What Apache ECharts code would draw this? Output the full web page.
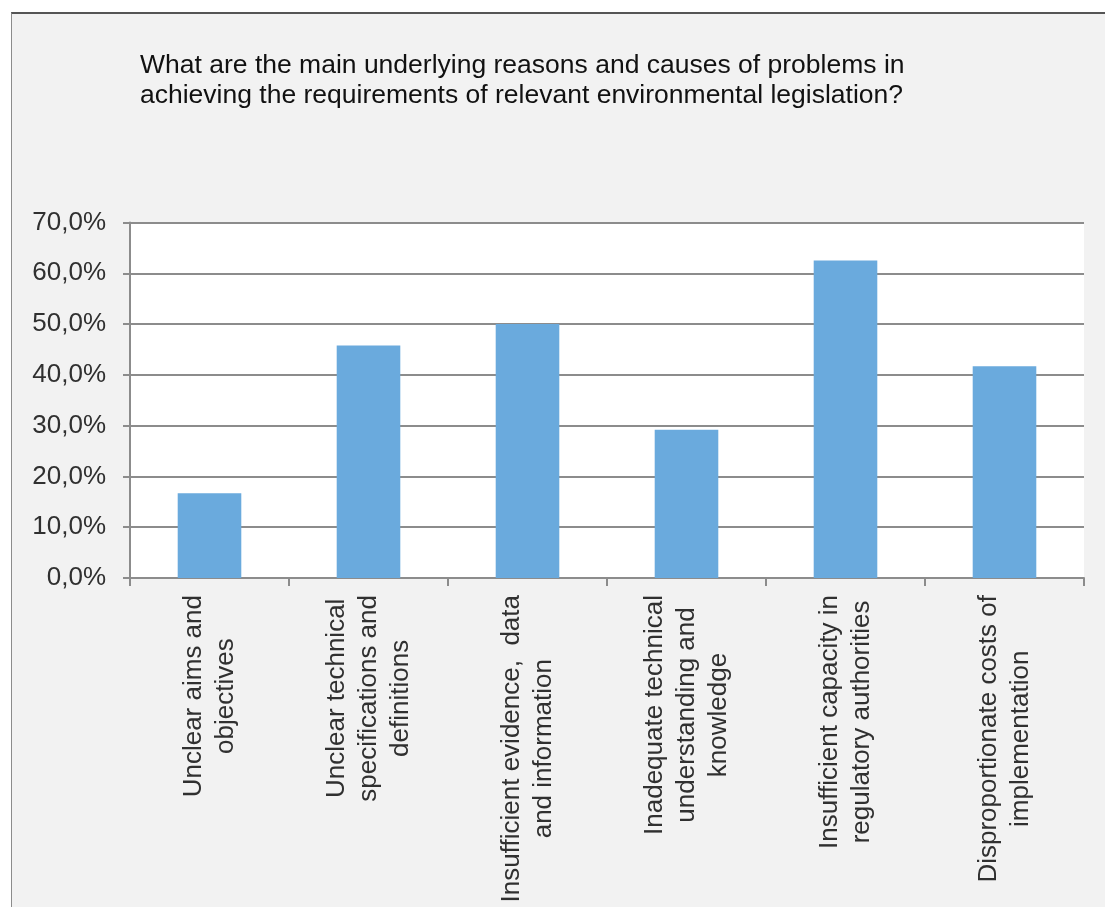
<!DOCTYPE html>
<html>
<head>
<meta charset="utf-8">
<script src="https://cdn.jsdelivr.net/npm/echarts@6/dist/echarts.min.js"></script>
<style>
  body { margin: 0; background: #fff; }
  #frame {
    position: absolute; left: 11px; top: 12px; right: 0; bottom: 0;
    background: #f2f2f2;
    border-top: 2px solid #555;
    border-left: 1px solid #8c8c8c;
  }
  #chart { position: absolute; left: 0; top: 0; width: 1105px; height: 907px; }
</style>
</head>
<body>
<div id="frame"></div>
<div id="chart"></div>
<script>
const titleText = "What are the main underlying reasons and causes of problems in\nachieving the requirements of relevant environmental legislation?";

const categories = [
  "Unclear aims and\nobjectives",
  "Unclear technical\nspecifications and\ndefinitions",
  "Insufficient evidence,  data\nand information",
  "Inadequate technical\nunderstanding and\nknowledge",
  "Insufficient capacity in\nregulatory authorities",
  "Disproportionate costs of\nimplementation",
];

const values = [16.7, 45.8, 50.0, 29.2, 62.5, 41.7];

const yTicks = { min: 0, max: 70, interval: 10 };

const font = "'Liberation Sans', Arial, sans-serif";
const lineColor = "#8c8c8c";
const textColor = "#303030";

const chart = echarts.init(document.getElementById("chart"), null, { renderer: "canvas" });

const option = {
  backgroundColor: "transparent",
  animation: false,
  title: {
    text: titleText,
    left: 140,
    top: 51,
    padding: 0,
    textStyle: {
      fontFamily: font,
      fontSize: 26.5,
      fontWeight: "normal",
      lineHeight: 30,
      color: "#111",
    },
  },
  grid: {
    left: 130,
    right: 21,
    top: 222.5,
    bottom: 329,
    show: true,
    backgroundColor: "#fff",
    borderWidth: 0,
  },
  xAxis: {
    type: "category",
    data: categories,
    axisLine: { show: true, lineStyle: { color: lineColor, width: 2 } },
    axisTick: { show: true, length: 8, lineStyle: { color: lineColor, width: 2 } },
    axisLabel: {
      interval: 0,
      rotate: 90,
      margin: 17,
      // each line centred inside the label block
      formatter: (v) => v.split("\n").map((l) => "{c|" + l + "}").join("\n"),
      rich: {
        c: {
          align: "center",
          fontFamily: font,
          fontSize: 26,
          lineHeight: 32,
          color: textColor,
        },
      },
    },
  },
  yAxis: {
    type: "value",
    min: yTicks.min,
    max: yTicks.max,
    interval: yTicks.interval,
    axisLine: { show: true, lineStyle: { color: lineColor, width: 2 } },
    axisTick: { show: true, length: 7, lineStyle: { color: lineColor, width: 2 } },
    splitLine: { show: true, lineStyle: { color: lineColor, width: 2 } },
    axisLabel: {
      margin: 24,
      fontFamily: font,
      fontSize: 26,
      color: textColor,
      formatter: (v) => v.toFixed(1).replace(".", ",") + "%",
    },
  },
  series: [
    {
      type: "bar",
      data: values,
      barWidth: "40%",
      itemStyle: { color: "#6aaadd" },
    },
  ],
};

chart.setOption(option);
</script>
</body>
</html>
